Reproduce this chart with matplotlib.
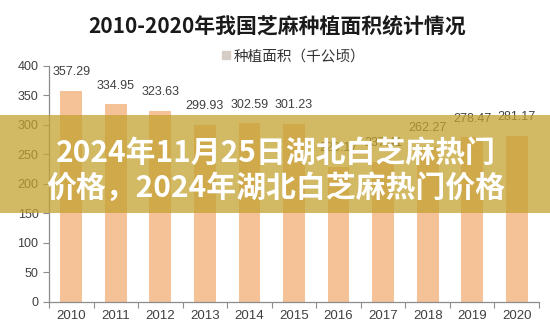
import matplotlib.pyplot as plt
from matplotlib.patches import Patch, Rectangle
import numpy as np

plt.rcParams['font.family'] = ['Liberation Sans', 'Noto Sans CJK SC', 'DejaVu Sans']

years = ['2010', '2011', '2012', '2013', '2014', '2015',
         '2016', '2017', '2018', '2019', '2020']
area = [357.29, 334.95, 323.63, 299.93, 302.59, 301.23,
        229.17, 237.41, 262.27, 278.47, 281.17]
yticks = [0, 50, 100, 150, 200, 250, 300, 350, 400]

title = '2010-2020年我国芝麻种植面积统计情况'
series_name = '种植面积（千公顷）'
banner_text = '2024年11月25日湖北白芝麻热门\n价格，2024年湖北白芝麻热门价格'

BAR = '#f5c197'
TXT = '#404040'
AX = '#8c8c8c'
CJK = ['Noto Sans CJK SC', 'DejaVu Sans']

fig = plt.figure(figsize=(5.5, 3.3), dpi=100)
ax = fig.add_axes([0.089, 0.0855, 0.891, 0.7155])

x = np.arange(len(years))
bars = ax.bar(x, area, width=0.49, color=BAR, zorder=2)
for xi, v in zip(x, area):
    ax.annotate(f'{v:.2f}', (xi, v), xytext=(0, 9), textcoords='offset points',
                ha='center', va='bottom', fontsize=9, color=TXT)

ax.set_xlim(-0.5, len(years) - 0.5)
ax.set_ylim(0, 400)
ax.set_yticks(yticks)
ax.tick_params(axis='y', colors=AX, labelcolor=TXT, labelsize=9, length=4, width=0.8)
ax.set_xticks(x)
ax.set_xticklabels(years)
ax.set_xticks(np.arange(len(years) + 1) - 0.5, minor=True)
ax.tick_params(axis='x', which='major', length=0, labelsize=9.5, labelcolor=TXT, pad=6)
ax.tick_params(axis='x', which='minor', length=4, width=0.8, colors=AX)
for side in ('top', 'right'):
    ax.spines[side].set_visible(False)
for side in ('left', 'bottom'):
    ax.spines[side].set_color(AX)
    ax.spines[side].set_linewidth(0.9)

fig.text(0.503, 0.918, title, ha='center', va='center', fontsize=15,
         fontweight='bold', color='#1a1a1a', family=CJK)
ax.legend(handles=[Patch(color='#d6cdc6', label=series_name)],
          loc='center', bbox_to_anchor=(0.5, 1.04), frameon=False,
          handlelength=0.5, handleheight=0.5, handletextpad=0.3,
          prop={'family': CJK, 'size': 10.5}, labelcolor='#333333')

# translucent headline band across the middle of the figure
fig.patches.append(Rectangle((0, 0.3545), 1, 0.297, transform=fig.transFigure,
                             facecolor='#c3a230', alpha=0.75, zorder=5))
fig.text(0.502, 0.484, banner_text, ha='center', va='center', fontsize=21.5,
         fontweight='bold', color='white', family=CJK, linespacing=1.2, zorder=6)

fig.savefig('out.png', dpi=100)
